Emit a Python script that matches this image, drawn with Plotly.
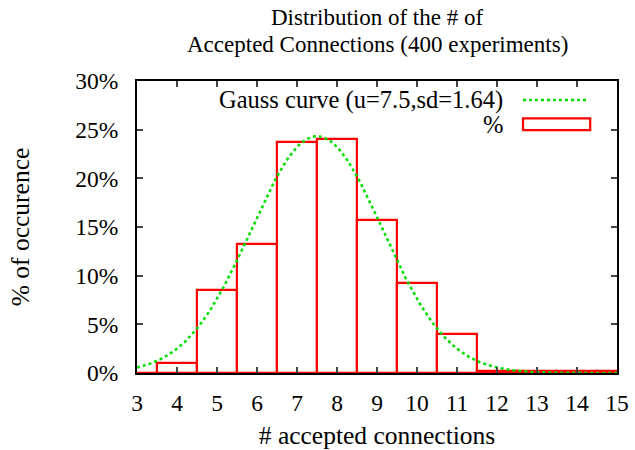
import numpy as np
import plotly.graph_objects as go

# Histogram of accepted connections (percent of 400 runs)
connections = [3, 4, 5, 6, 7, 8, 9, 10, 11, 12, 13, 14, 15]
percent = [0, 1.0, 8.5, 13.25, 23.75, 24.0, 15.75, 9.25, 4.0, 0.25, 0.25, 0.25, 0.25]

# Fitted normal curve parameters (shown in the legend label)
gauss_mu = 7.5
gauss_sd = 1.64

x_ticks = list(range(3, 16))
y_ticks = [0, 5, 10, 15, 20, 25, 30]
y_tick_text = [f"{v}%" for v in y_ticks]

title_lines = ["Distribution of the # of", "Accepted Connections (400 experiments)"]

FONT = "Liberation Serif, Times New Roman, serif"
TICK_FS = 23.5
TITLE_FS = 23
AXIS_FS = 25.5
KEY_FS = 24.5

L, R, T, B = 137, 18, 81, 77
W, H = 635, 450
plot_h = H - T - B

xs = np.linspace(3, 15, 241)
gauss = 100.0 / (gauss_sd * np.sqrt(2 * np.pi)) * np.exp(-0.5 * ((xs - gauss_mu) / gauss_sd) ** 2)

fig = go.Figure()
fig.add_trace(go.Scatter(
    x=xs, y=gauss, mode="lines",
    line=dict(color="#00e000", width=2.5, dash="dot"),
    showlegend=False, hoverinfo="skip",
))
fig.add_trace(go.Bar(
    x=connections, y=percent, width=1,
    marker=dict(color="rgba(0,0,0,0)", line=dict(color="#ff0000", width=2.2)),
    showlegend=False,
))

# gnuplot-style key: right-justified labels with samples to their right
key_rows = [("Gauss curve (u=7.5,sd=1.64)", 28.05), ("%", 25.55)]
for text, yk in key_rows:
    fig.add_annotation(x=12.2, y=yk, xref="x", yref="y", text=text, showarrow=False,
                       xanchor="right", yanchor="middle",
                       font=dict(family=FONT, size=KEY_FS, color="black"))
fig.add_shape(type="line", x0=12.65, x1=14.3, y0=28.05, y1=28.05, xref="x", yref="y",
              line=dict(color="#00e000", width=2.5, dash="dot"))
fig.add_shape(type="rect", x0=12.65, x1=14.33, y0=24.95, y1=26.15, xref="x", yref="y",
              line=dict(color="#ff0000", width=2.2), fillcolor="rgba(0,0,0,0)")

# two-line title centred over the plot area
for line, py in zip(title_lines, [18, 44]):
    fig.add_annotation(x=0.5, y=(H - B - py) / plot_h, xref="paper", yref="paper",
                       text=line, showarrow=False, xanchor="center", yanchor="middle",
                       font=dict(family=FONT, size=TITLE_FS, color="black"))

fig.update_layout(
    width=W, height=H,
    margin=dict(l=L, r=R, t=T, b=B),
    paper_bgcolor="white", plot_bgcolor="white",
    font=dict(family=FONT, size=TICK_FS, color="black"),
    bargap=0,
    xaxis=dict(range=[3, 15], tickvals=x_ticks, ticks="inside", ticklen=6, tickwidth=1.5,
               showline=True, linecolor="black", linewidth=2, mirror="allticks",
               showgrid=False, zeroline=False, ticklabelstandoff=8, automargin=False,
               title=dict(text="# accepted connections", standoff=12,
                          font=dict(family=FONT, size=AXIS_FS)),
               tickfont=dict(family=FONT, size=TICK_FS)),
    yaxis=dict(range=[0, 30], tickvals=y_ticks, ticktext=y_tick_text, ticks="inside",
               ticklen=6, tickwidth=1.5, automargin=False,
               showline=True, linecolor="black", linewidth=2, mirror="allticks",
               showgrid=False, zeroline=False, ticklabelstandoff=12,
               title=dict(text="% of occurence", standoff=38,
                          font=dict(family=FONT, size=AXIS_FS)),
               tickfont=dict(family=FONT, size=TICK_FS)),
)

fig.write_html("out.html")
